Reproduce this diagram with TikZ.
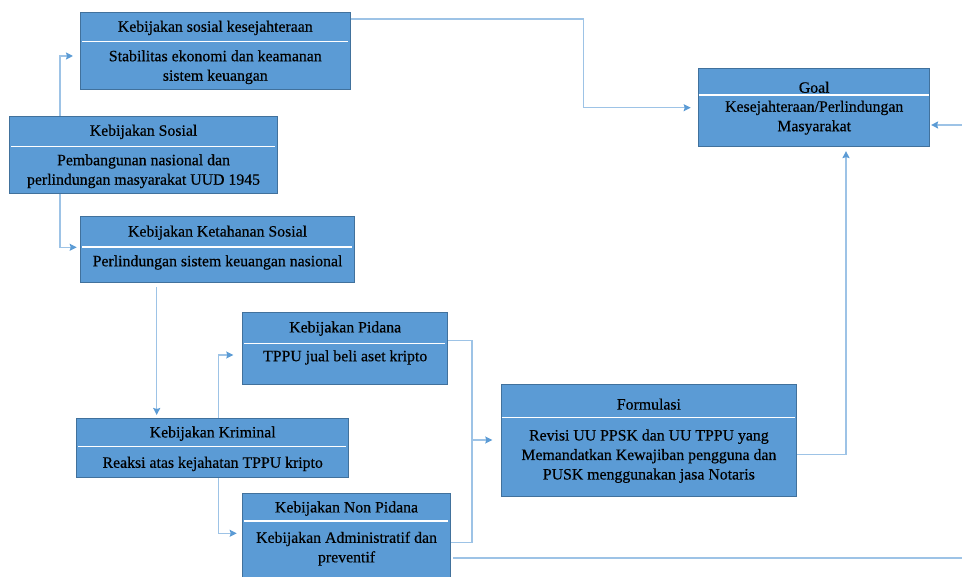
\documentclass[tikz,border=0pt]{standalone}
\usepackage{fontspec}
\setmainfont{Liberation Serif}[FakeBold=0.4]
\usetikzlibrary{calc,arrows.meta}
\definecolor{isikotak}{HTML}{5B9BD5}
\definecolor{tepikotak}{HTML}{41719C}
\definecolor{garisbiru}{HTML}{9DC3E6}

\begin{document}
\begin{tikzpicture}[x=1pt,y=-1pt,
    kotak/.style={draw=tepikotak,fill=isikotak,line width=1.1pt,anchor=north west,inner sep=0pt},
    teks/.style={inner sep=0pt,align=center,font=\fontsize{15.8}{19.5}\selectfont},
    satu/.style={teks,text height=11pt,text depth=3.5pt},
    pemisah/.style={draw=white,line width=1.3pt},
    garis/.style={draw=garisbiru,line width=1.5pt},
    panah/.style={garis,-{Stealth[length=7pt,width=7pt,inset=1pt,color=isikotak]}}]
    \useasboundingbox (0,0) rectangle (962,577);
    % kotak-kotak
    \node[kotak,minimum width=269.5pt,minimum height=77.3pt] (sejahtera) at (80,11.7) {};
    \draw[pemisah] (82,41.7) -- (347.5,41.7);
    \node[satu] (sejahterajudul) at ($(sejahtera.north)+(0,16.3)$) {Kebijakan sosial kesejahteraan};
    \node[teks] (sejahteraisi) at ($(sejahtera.north)+(0,55.5)$) {Stabilitas ekonomi dan keamanan\\sistem keuangan};
    \node[kotak,minimum width=267.4pt,minimum height=77.3pt] (sosial) at (9.3,116) {};
    \draw[pemisah] (11,146.7) -- (275,146.7);
    \node[satu] (sosialjudul) at ($(sosial.north)+(0,16)$) {Kebijakan Sosial};
    \node[teks] (sosialisi) at ($(sosial.north)+(0,55.2)$) {Pembangunan nasional dan\\perlindungan masyarakat UUD 1945};
    \node[kotak,minimum width=274pt,minimum height=66.3pt] (ketahanan) at (80,216) {};
    \draw[pemisah] (82,247) -- (352,247);
    \node[satu] (ketahananjudul) at ($(ketahanan.north)+(0,16.8)$) {Kebijakan Ketahanan Sosial};
    \node[satu] (ketahananisi) at ($(ketahanan.north)+(0,46.5)$) {Perlindungan sistem keuangan nasional};
    \node[kotak,minimum width=205.3pt,minimum height=72.6pt] (pidana) at (242,311.7) {};
    \draw[pemisah] (244,343.3) -- (445.3,343.3);
    \node[satu] (pidanajudul) at ($(pidana.north)+(0,17)$) {Kebijakan Pidana};
    \node[satu] (pidanaisi) at ($(pidana.north)+(0,45.8)$) {TPPU jual beli aset kripto};
    \node[kotak,minimum width=272.3pt,minimum height=59.3pt] (kriminal) at (76,417.7) {};
    \draw[pemisah] (78,446.7) -- (346.3,446.7);
    \node[satu] (kriminaljudul) at ($(kriminal.north)+(0,16)$) {Kebijakan Kriminal};
    \node[satu] (kriminalisi) at ($(kriminal.north)+(0,46.3)$) {Reaksi atas kejahatan TPPU kripto};
    \node[kotak,minimum width=208pt,minimum height=95pt] (nonpidana) at (242,492.7) {};
    \draw[pemisah] (244,521) -- (448,521);
    \node[satu] (nonpidanajudul) at ($(nonpidana.north)+(0,16)$) {Kebijakan Non Pidana};
    \node[teks] (nonpidanaisi) at ($(nonpidana.north)+(0,56)$) {Kebijakan Administratif dan\\preventif};
    \node[kotak,minimum width=294.7pt,minimum height=112pt] (formulasi) at (501,384) {};
    \draw[pemisah] (501.5,417.7) -- (795.2,417.7);
    \node[satu] (formulasijudul) at ($(formulasi.north)+(0,21.8)$) {Formulasi};
    \node[teks] (formulasiisi) at ($(formulasi.north)+(0,72.2)$) {Revisi UU PPSK dan UU TPPU yang\\Memandatkan Kewajiban pengguna dan\\PUSK menggunakan jasa Notaris};
    \node[kotak,minimum width=231.3pt,minimum height=78pt] (goal) at (698,67.7) {};
    \draw[pemisah] (698.5,95) -- (928.8,95);
    \node[satu] (goaljudul) at ($(goal.north)+(0,21.3)$) {Goal};
    \node[teks] (goalisi) at ($(goal.north)+(0,50)$) {Kesejahteraan/Perlindungan\\Masyarakat};
    % penghubung
    \coordinate (cabang) at (471,440);
    \coordinate (kanan) at (962,125);
    \coordinate (bawah) at (962,558);
    \draw[panah] ($(sosial.north west)+(50.7,0)$) |- ($(sejahtera.north west)+(-7,44.3)$);
    \draw[panah] ($(sosial.south west)+(50.7,0)$) |- ($(ketahanan.north west)+(-3.3,31.3)$);
    \draw[panah] ($(sejahtera.north east)+(0,7.3)$) -- ++(232.8,0) |- ($(goal.north west)+(-7.3,40)$);
    \draw[panah] ($(ketahanan.south west)+(76.7,4)$) -- ($(kriminal.north west)+(80.7,-2.7)$);
    \draw[panah] ($(kriminal.north west)+(142.7,0)$) |- ($(pidana.north west)+(-8.7,43.3)$);
    \draw[panah] ($(kriminal.south west)+(142.7,0)$) |- ($(nonpidana.north west)+(-5.3,40.6)$);
    \draw[garis] ($(pidana.north east)+(0,29)$) -- ++(23.7,0) |- ($(nonpidana.north east)+(0,50)$);
    \draw[panah] (cabang) -- ($(formulasi.north west)+(-8.7,56)$);
    \draw[panah] ($(formulasi.north east)+(0,70.3)$) -| ($(goal.south west)+(148,4.3)$);
    \draw[panah] (kanan) -- ($(goal.north east)+(0.7,57.3)$);
    \draw[garis] ($(nonpidana.north east)+(2,65.3)$) -- (bawah);
\end{tikzpicture}
\end{document}
